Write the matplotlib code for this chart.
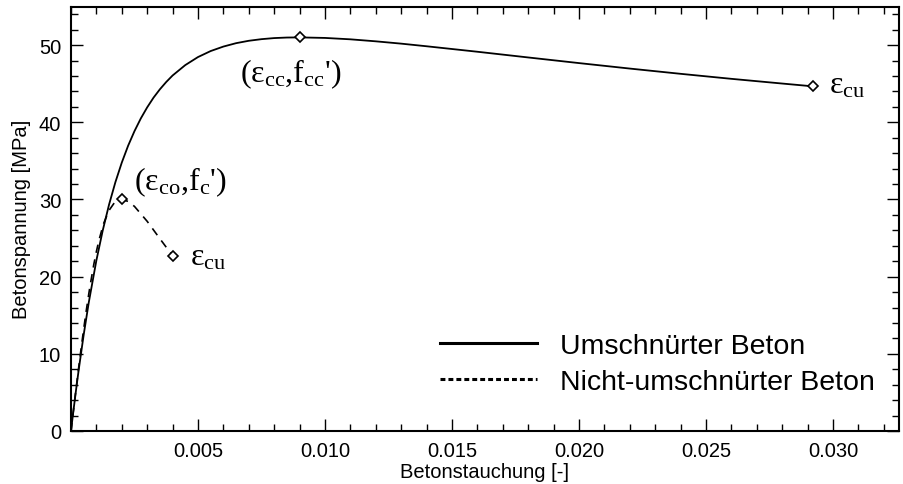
import matplotlib
matplotlib.use('Agg')
import matplotlib.pyplot as plt
from matplotlib.lines import Line2D
from matplotlib.ticker import MultipleLocator

plt.rcParams['font.family'] = ['Liberation Sans', 'DejaVu Sans']
plt.rcParams['mathtext.fontset'] = 'custom'
plt.rcParams['mathtext.rm'] = 'Liberation Serif'
plt.rcParams['mathtext.it'] = 'Liberation Serif:italic'

# confined concrete
conf_strain = [0.0, 0.0001, 0.0002, 0.0003, 0.0005, 0.0007, 0.001, 0.00125,
               0.0015, 0.00175, 0.002, 0.00225, 0.0025, 0.00275, 0.003, 0.00325,
               0.0035, 0.00375, 0.004, 0.0045, 0.005, 0.0055, 0.006, 0.0065,
               0.007, 0.0075, 0.008, 0.0085, 0.009, 0.010, 0.011, 0.012, 0.013,
               0.014, 0.016, 0.018, 0.020, 0.022, 0.024, 0.026, 0.028, 0.0292]
conf_stress = [0.0, 2.70, 5.31, 7.81, 12.45, 16.63, 22.09, 25.97,
               29.34, 32.25, 34.77, 36.96, 38.85, 40.50, 41.93, 43.19,
               44.27, 45.22, 46.06, 47.41, 48.45, 49.23, 49.81, 50.25,
               50.56, 50.77, 50.91, 50.98, 51.0, 50.93, 50.75, 50.49, 50.19,
               49.85, 49.14, 48.40, 47.67, 46.96, 46.28, 45.63, 45.02, 44.66]

# unconfined concrete
unconf_strain = [0.0, 0.0001, 0.0002, 0.0003, 0.0004, 0.0005, 0.0006, 0.0007,
                 0.00075, 0.0009, 0.001, 0.0011, 0.00125, 0.0013, 0.0015,
                 0.0017, 0.00175, 0.002, 0.00225, 0.0025, 0.003, 0.0035, 0.004]
unconf_stress = [0.0, 2.74, 5.45, 8.12, 10.70, 13.19, 15.54, 17.73,
                 18.77, 21.60, 23.24, 24.69, 26.49, 27.00, 28.59,
                 29.53, 29.68, 30.0, 29.75, 29.10, 27.17, 24.92, 22.71]

# marked points: peak and ultimate strain
conf_mark_x = [0.009, 0.0292]
conf_mark_y = [51.0, 44.66]
unconf_mark_x = [0.002, 0.004]
unconf_mark_y = [30.0, 22.71]

legend_labels = ['Umschnürter Beton', 'Nicht-umschnürter Beton']
x_ticks = [0.005, 0.010, 0.015, 0.020, 0.025, 0.030]
y_ticks = [0, 10, 20, 30, 40, 50]

fig = plt.figure(figsize=(9.04, 4.85), dpi=100)
ax = fig.add_axes([0.0785, 0.1093, 0.9160, 0.8752])

ax.plot(conf_strain, conf_stress, color='black', lw=1.3)
ax.plot(unconf_strain, unconf_stress, color='black', lw=1.2, linestyle=(0, (5, 4)))
ax.plot(conf_mark_x, conf_mark_y, linestyle='none', marker='D', ms=5.5,
        mfc='white', mec='black', mew=1.2)
ax.plot(unconf_mark_x, unconf_mark_y, linestyle='none', marker='D', ms=5.5,
        mfc='white', mec='black', mew=1.2)

# labels in Times-like serif, subscripts via mathtext
txt = dict(textcoords='offset points', fontsize=23, ha='left', va='baseline',
           family='Liberation Serif')
ax.annotate("(ε$_\\mathrm{cc}$,f$_\\mathrm{cc}$')", (conf_mark_x[0], conf_mark_y[0]),
            xytext=(-43, -31.5), **txt)
ax.annotate("ε$_\\mathrm{cu}$", (conf_mark_x[1], conf_mark_y[1]),
            xytext=(11.7, -4.2), **txt)
ax.annotate("(ε$_\\mathrm{co}$,f$_\\mathrm{c}$')", (unconf_mark_x[0], unconf_mark_y[0]),
            xytext=(8.8, 7.4), **txt)
ax.annotate("ε$_\\mathrm{cu}$", (unconf_mark_x[1], unconf_mark_y[1]),
            xytext=(12.5, -6.1), **txt)

ax.set_xlim(0, 0.0326)
ax.set_ylim(0, 55)
ax.set_xticks(x_ticks)
ax.set_xticklabels(['%.3f' % v for v in x_ticks])
ax.set_yticks(y_ticks)
ax.xaxis.set_minor_locator(MultipleLocator(0.001))
ax.yaxis.set_minor_locator(MultipleLocator(2))
ax.tick_params(which='both', direction='in', top=True, right=True,
               labelsize=14.5, width=1.0, pad=7)
ax.tick_params(which='major', length=8.6)
ax.tick_params(which='minor', length=5)
for s in ax.spines.values():
    s.set_linewidth(1.5)

ax.set_xlabel('Betonstauchung [-]', fontsize=14.5, labelpad=2)
ax.set_ylabel('Betonspannung [MPa]', fontsize=14.5, labelpad=6)

handles = [Line2D([], [], color='black', lw=2.2),
           Line2D([], [], color='black', lw=2.2, linestyle=(0, (1.6, 1.0)))]
ax.legend(handles, legend_labels, loc='upper left', bbox_to_anchor=(0.4457, 0.23),
          frameon=False, fontsize=20.5, handlelength=3.4, handletextpad=0.8,
          labelspacing=0.35, borderpad=0, borderaxespad=0)

fig.savefig('out.png', dpi=100)
